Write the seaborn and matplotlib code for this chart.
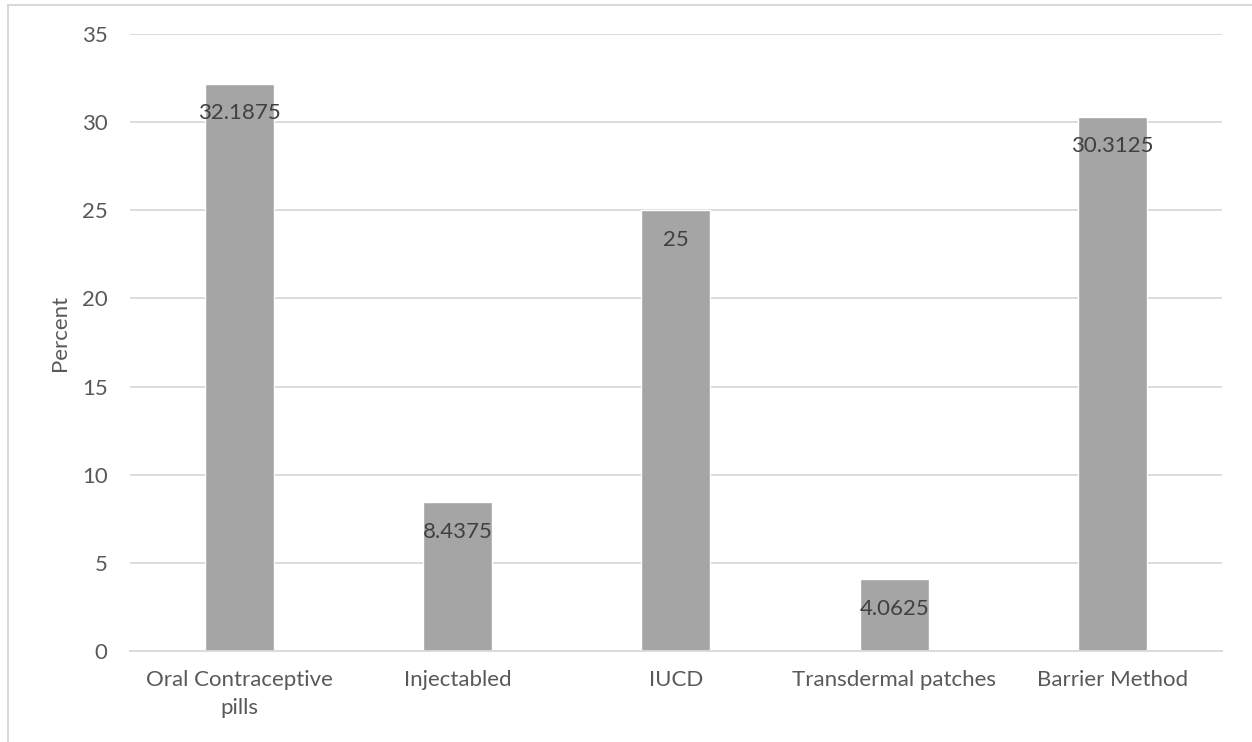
import matplotlib
matplotlib.use("Agg")
import matplotlib.pyplot as plt
from matplotlib.lines import Line2D
import seaborn as sns
import pandas as pd

# Contraceptive methods and their share (%)
methods = ["Oral Contraceptive\npills", "Injectabled", "IUCD",
           "Transdermal patches", "Barrier Method"]
percents = [32.1875, 8.4375, 25, 4.0625, 30.3125]
y_ticks = [0, 5, 10, 15, 20, 25, 30, 35]

TEXT = "#595959"
GRID = "#D9D9D9"
BAR = "#A5A5A5"

sns.set_theme(style="white")
plt.rcParams["font.family"] = ["Lato", "DejaVu Sans"]

df = pd.DataFrame({"Method": methods, "Percent": percents})

fig = plt.figure(figsize=(12.52, 7.42), dpi=100)
ax = fig.add_axes([0.1038, 0.1226, 0.8722, 0.8316])

sns.barplot(data=df, x="Method", y="Percent", color=BAR, width=0.316,
            saturation=1, ax=ax, zorder=3)

ax.set_ylim(0, 35)
ax.set_yticks(y_ticks)
ax.set_yticklabels([str(t) for t in y_ticks])
ax.yaxis.grid(True, color=GRID, linewidth=1.3, zorder=0)
ax.set_axisbelow(True)
for s in ["top", "right", "left"]:
    ax.spines[s].set_visible(False)
ax.spines["bottom"].set_color(GRID)
ax.spines["bottom"].set_linewidth(1.3)
ax.spines["bottom"].set_zorder(4)

ax.tick_params(axis="both", length=0, labelsize=16, colors=TEXT)
ax.tick_params(axis="y", pad=16)
ax.tick_params(axis="x", pad=14)
for lbl in ax.get_xticklabels():
    lbl.set_linespacing(1.45)
ax.set_xlabel("")
ax.set_ylabel("Percent", fontsize=16, color=TEXT)
ax.yaxis.set_label_coords(-0.055, 0.515)

# Value labels just inside the top of each bar
for i, v in enumerate(percents):
    ax.annotate(f"{v:g}", xy=(i, v), xytext=(0, -21.5), textcoords="offset points",
                ha="center", va="center", fontsize=16, color="#404040", zorder=5)

# Light frame around the chart area
fig.add_artist(Line2D([0.0064, 0.0064], [0.0, 0.9933], color=GRID, linewidth=1.5,
                      transform=fig.transFigure))
fig.add_artist(Line2D([0.0064, 1.0], [0.9933, 0.9933], color=GRID, linewidth=1.5,
                      transform=fig.transFigure))

fig.savefig("out.png", dpi=100)
